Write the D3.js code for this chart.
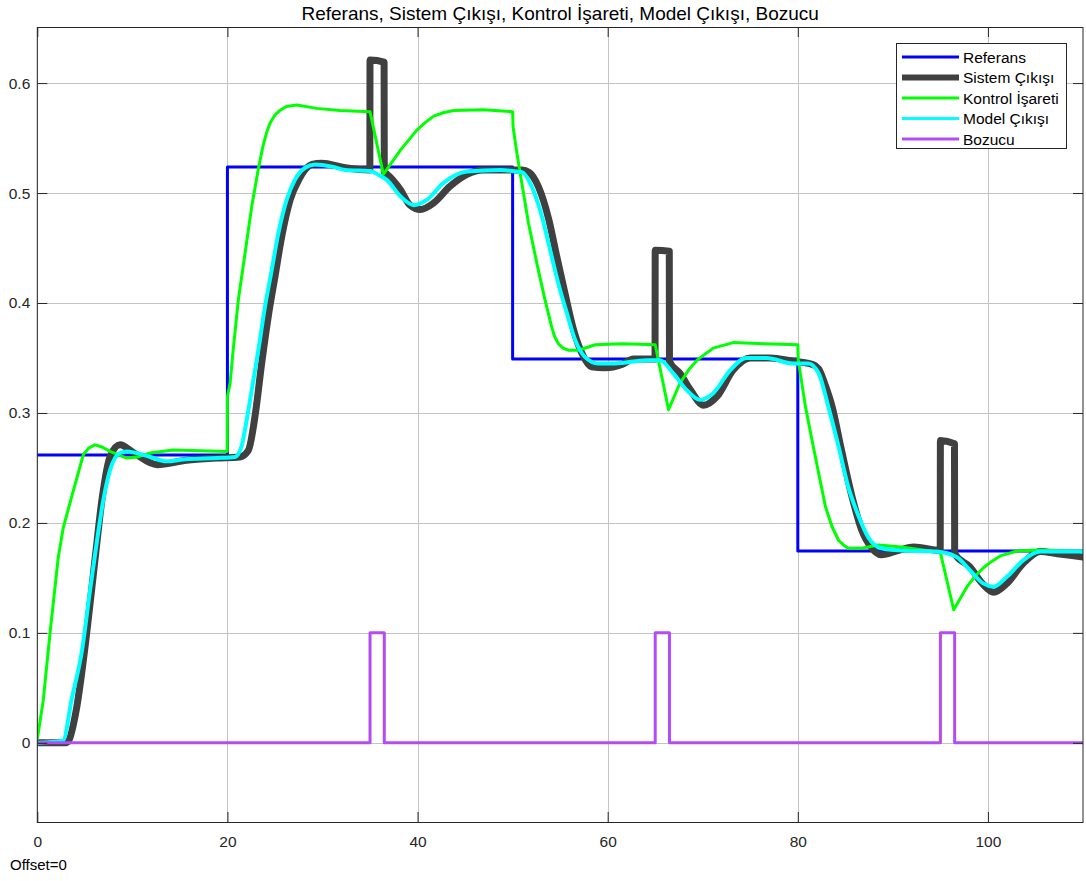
<!DOCTYPE html>
<html>
<head>
<meta charset="utf-8">
<script src="https://cdn.jsdelivr.net/npm/d3@7"></script>
<style>
  html, body { margin: 0; padding: 0; background: #fff; }
  svg { display: block; font-family: "Liberation Sans", Arial, sans-serif; }
</style>
</head>
<body>
<svg id="chart" width="1086" height="881"></svg>
<script>
// Scope signals: time (s) and value for each trace
const refTime   = [0, 20, 50, 80, 110];
const refValues = [0.2618, 0.5236, 0.3491, 0.1745, 0.1745];

const distTime   = [0, 35, 36.5, 65, 66.5, 95, 96.5, 110];
const distValues = [0, 0.1, 0, 0.1, 0, 0.1, 0, 0];

const sysTime = [0, 3.0, 3.3, 4.1, 5.2, 6.1, 6.8, 7.65, 8.7, 10.1, 12.6, 15.7, 18.9, 21.3, 22.2, 22.9,
  23.6, 24.3, 25.0, 25.7, 26.6, 27.5, 28.9, 29.9, 32.4, 34.98, 35.0, 36.48, 36.5, 36.8, 38.2, 39.2,
  40.3, 41.7, 43.4, 45.2, 46.9, 49.7, 51.0, 51.7, 52.7, 53.8, 54.65, 55.5, 56.4, 57.3, 58.3, 59.7,
  61.5, 62.7, 64.98, 65.0, 66.48, 66.5, 67.6, 68.7, 70.1, 71.5, 73.2, 75.0, 77.1, 79.5, 81.6, 82.2,
  82.9, 83.6, 84.6, 85.7, 86.7, 87.8, 88.8, 90.6, 92.2, 94.98, 95.0, 96.48, 96.5, 98.1, 99.4, 100.6,
  102.0, 103.7, 105.5, 107.3, 110];
const sysValues = [0, 0, 0.002, 0.030, 0.100, 0.169, 0.221, 0.260, 0.271, 0.264, 0.253, 0.257, 0.259, 0.260, 0.266, 0.297,
  0.345, 0.388, 0.424, 0.460, 0.494, 0.512, 0.526, 0.527, 0.523, 0.521, 0.621, 0.619, 0.519, 0.517, 0.503, 0.489,
  0.485, 0.491, 0.506, 0.517, 0.521, 0.521, 0.521, 0.519, 0.506, 0.476, 0.442, 0.409, 0.376, 0.354, 0.342, 0.341,
  0.344, 0.349, 0.349, 0.448, 0.447, 0.347, 0.336, 0.321, 0.307, 0.315, 0.339, 0.350, 0.350, 0.347, 0.344, 0.340,
  0.325, 0.306, 0.266, 0.224, 0.194, 0.177, 0.171, 0.175, 0.178, 0.175, 0.275, 0.272, 0.172, 0.160, 0.145, 0.137,
  0.145, 0.163, 0.174, 0.172, 0.169];

const ctrlTime = [0, 0.1, 0.63, 1.34, 2.21, 2.74, 3.62, 4.84, 5.4, 6.07, 6.8, 7.65, 9.4, 10.6, 11.86, 14.3, 19.98, 20.0, 20.28,
  20.6, 21.15, 21.85, 22.56, 23.25, 23.7, 24.1, 24.5, 25.0, 25.5, 26.2, 27.3, 29.4, 31.85, 35.0, 36.4, 38.2, 39.9, 40.8, 41.7,
  42.7, 43.8, 46.9, 50.0, 50.05, 50.4, 50.97, 51.66, 52.55, 53.4, 54.1, 54.4, 54.8, 55.3, 55.9, 56.9, 58.7, 61.5, 65.0,
  66.4, 67.6, 68.5, 69.4, 71.1, 73.2, 76.4, 80.0, 80.05, 80.8, 81.5, 82.2, 82.9, 83.6, 84.3, 84.8, 85.3, 86.7,
  88.5, 90.9, 95.0, 96.4, 97.8, 98.6, 99.5, 100.4, 101.3, 103.05, 105.5, 110];
const ctrlValues = [0.004, 0.009, 0.039, 0.100, 0.169, 0.196, 0.224, 0.262, 0.268, 0.271, 0.269, 0.265, 0.259, 0.260, 0.2636, 0.2664, 0.265, 0.315, 0.327,
  0.357, 0.403, 0.445, 0.488, 0.522, 0.541, 0.5545, 0.564, 0.571, 0.575, 0.5787, 0.580, 0.577, 0.575, 0.574, 0.517, 0.539, 0.557, 0.564, 0.570,
  0.573, 0.575, 0.5757, 0.574, 0.560, 0.539, 0.509, 0.473, 0.436, 0.403, 0.3785, 0.370, 0.363, 0.359, 0.357, 0.357, 0.362, 0.363, 0.362,
  0.303, 0.327, 0.339, 0.348, 0.359, 0.364, 0.363, 0.362, 0.348, 0.306, 0.275, 0.245, 0.215, 0.1965, 0.184, 0.180, 0.177, 0.177,
  0.180, 0.178, 0.173, 0.121, 0.142, 0.151, 0.159, 0.165, 0.170, 0.1744, 0.1753, 0.174];

const modelTime = [0, 2.7, 3.6, 4.7, 5.55, 6.25, 6.95, 7.65, 8.7, 9.4, 11.9, 13.6, 15.6, 18.9, 20.8, 21.5,
  21.85, 22.56, 23.25, 23.96, 24.66, 25.36, 26.24, 27.1, 28.17, 29.2, 31.0, 32.4, 35.0, 36.0, 36.76, 38.2,
  39.6, 41.0, 42.7, 45.2, 48.7, 50.4, 51.0, 52.0, 53.07, 53.95, 54.8, 55.7, 56.6, 57.6, 59.0, 60.8,
  64.1, 65.5, 66.9, 68.3, 69.7, 71.1, 72.9, 74.6, 76.7, 79.5, 81.1, 82.2, 83.2, 84.3, 85.3, 86.4,
  87.4, 88.8, 90.9, 94.6, 96.7, 98.1, 99.5, 100.6, 102.0, 103.7, 105.5, 110];
const modelValues = [0, 0.002, 0.039, 0.084, 0.139, 0.182, 0.221, 0.248, 0.2636, 0.265, 0.260, 0.256, 0.258, 0.259, 0.260, 0.270,
  0.285, 0.321, 0.357, 0.397, 0.430, 0.4635, 0.494, 0.512, 0.523, 0.526, 0.524, 0.521, 0.520, 0.516, 0.512, 0.497,
  0.489, 0.494, 0.509, 0.5196, 0.521, 0.5196, 0.519, 0.506, 0.479, 0.448, 0.418, 0.391, 0.366, 0.351, 0.345, 0.345,
  0.348, 0.348, 0.336, 0.321, 0.312, 0.318, 0.339, 0.350, 0.350, 0.345, 0.345, 0.336, 0.306, 0.269, 0.233, 0.206,
  0.187, 0.177, 0.175, 0.174, 0.169, 0.157, 0.145, 0.142, 0.151, 0.166, 0.174, 0.174];

const xTicks = [0, 20, 40, 60, 80, 100];
const yTicks = [0, 0.1, 0.2, 0.3, 0.4, 0.5, 0.6];

const titleText = "Referans, Sistem Çıkışı, Kontrol İşareti, Model Çıkışı, Bozucu";

const series = [
  { name: "Referans",        t: refTime,   v: refValues,   color: "#0000ff", width: 3, curve: d3.curveStepAfter },
  { name: "Sistem Çıkışı",   t: sysTime,   v: sysValues,   color: "#404040", width: 7, curve: d3.curveMonotoneX },
  { name: "Kontrol İşareti", t: ctrlTime,  v: ctrlValues,  color: "#00ff00", width: 3, curve: d3.curveLinear },
  { name: "Model Çıkışı",    t: modelTime, v: modelValues, color: "#00ffff", width: 4, curve: d3.curveMonotoneX },
  { name: "Bozucu",          t: distTime,  v: distValues,  color: "#b34cf5", width: 3, curve: d3.curveStepAfter }
];

// Layout
const plot = { left: 37.3, top: 27, right: 1083, bottom: 822 };
const svg = d3.select("#chart");

const x = d3.scaleLinear().domain([0, 110]).range([plot.left, plot.right]);
const y = d3.scaleLinear().domain([-0.072, 0.651]).range([plot.bottom, plot.top]);

const axisColor = "#262626";
const gridColor = "#c4c4c4";
const font = "'Liberation Sans', Arial, sans-serif";

// Grid
const grid = svg.append("g");
grid.selectAll("line.gx").data(xTicks).join("line")
  .attr("x1", d => Math.round(x(d)) + 0.5).attr("x2", d => Math.round(x(d)) + 0.5)
  .attr("y1", plot.top).attr("y2", plot.bottom)
  .attr("stroke", gridColor).attr("stroke-width", 1);
grid.selectAll("line.gy").data(yTicks).join("line")
  .attr("y1", d => Math.round(y(d)) + 0.5).attr("y2", d => Math.round(y(d)) + 0.5)
  .attr("x1", plot.left).attr("x2", plot.right)
  .attr("stroke", gridColor).attr("stroke-width", 1);

// Traces
svg.append("clipPath").attr("id", "plotClip").append("rect")
  .attr("x", plot.left).attr("y", plot.top)
  .attr("width", plot.right - plot.left).attr("height", plot.bottom - plot.top);

const traces = svg.append("g").attr("clip-path", "url(#plotClip)");
series.forEach(s => {
  const pts = s.t.map((t, i) => [t, s.v[i]]);
  const line = d3.line().x(d => x(d[0])).y(d => y(d[1])).curve(s.curve);
  traces.append("path")
    .attr("d", line(pts))
    .attr("fill", "none")
    .attr("stroke", s.color)
    .attr("stroke-width", s.width)
    .attr("stroke-linejoin", "round")
    .attr("stroke-linecap", "round");
});

// Axes (inside ticks on all four sides)
const tickLen = 10;
const xb = d3.axisBottom(x).tickValues(xTicks).tickSize(-tickLen).tickPadding(14).tickFormat(d3.format("d"));
const xt = d3.axisTop(x).tickValues(xTicks).tickSize(-tickLen).tickFormat("");
const yl = d3.axisLeft(y).tickValues(yTicks).tickSize(-tickLen).tickPadding(7).tickFormat(d => d === 0 ? "0" : d3.format(".1f")(d));
const yr = d3.axisRight(y).tickValues(yTicks).tickSize(-tickLen).tickFormat("");

function styleAxis(g) {
  g.select(".domain").remove();
  g.selectAll(".tick line").attr("stroke", axisColor);
  g.selectAll(".tick text").attr("fill", axisColor).attr("font-size", 15.5).attr("font-family", font);
}
svg.append("g").attr("transform", `translate(0,${plot.bottom})`).call(xb).call(styleAxis);
svg.append("g").attr("transform", `translate(0,${plot.top})`).call(xt).call(styleAxis);
svg.append("g").attr("transform", `translate(${plot.left},0)`).call(yl).call(styleAxis);
svg.append("g").attr("transform", `translate(${plot.right},0)`).call(yr).call(styleAxis);

// Plot box
svg.append("rect")
  .attr("x", plot.left).attr("y", plot.top + 0.5)
  .attr("width", plot.right - plot.left).attr("height", plot.bottom - plot.top)
  .attr("fill", "none").attr("stroke", axisColor).attr("stroke-width", 1);

// Title
svg.append("text")
  .attr("x", (plot.left + plot.right) / 2).attr("y", 20)
  .attr("text-anchor", "middle")
  .attr("font-size", 19)
  .attr("font-family", font)
  .attr("fill", "#000")
  .text(titleText);

// Legend
const legend = { x: 896, y: 43, w: 170, h: 105, rowY0: 57, rowGap: 20.5 };
const lg = svg.append("g");
lg.append("rect")
  .attr("x", legend.x + 0.5).attr("y", legend.y + 0.5)
  .attr("width", legend.w).attr("height", legend.h)
  .attr("fill", "#fff").attr("stroke", axisColor).attr("stroke-width", 1);
series.forEach((s, i) => {
  const ry = legend.rowY0 + i * legend.rowGap;
  lg.append("line")
    .attr("x1", 902).attr("x2", 959).attr("y1", ry).attr("y2", ry)
    .attr("stroke", s.color).attr("stroke-width", s.width === 7 ? 6 : 3);
  lg.append("text")
    .attr("x", 963).attr("y", ry + 5.5)
    .attr("font-size", 15.5).attr("font-family", font).attr("fill", "#000")
    .text(s.name);
});

// Offset note
svg.append("text")
  .attr("x", 10).attr("y", 870)
  .attr("font-size", 15).attr("font-family", font).attr("fill", "#000")
  .text("Offset=0");
</script>
</body>
</html>
